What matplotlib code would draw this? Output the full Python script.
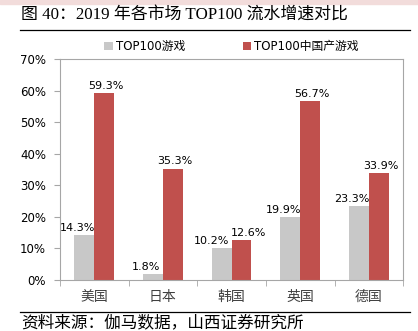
import matplotlib
matplotlib.use("Agg")
import matplotlib.pyplot as plt
import numpy as np

plt.rcParams["font.family"] = ["DejaVu Sans", "Noto Sans CJK SC"]

categories = ["美国", "日本", "韩国", "英国", "德国"]
top100 = [14.3, 1.8, 10.2, 19.9, 23.3]
top100_cn = [59.3, 35.3, 12.6, 56.7, 33.9]
series_names = ["TOP100游戏", "TOP100中国产游戏"]
yticks = [0, 10, 20, 30, 40, 50, 60, 70]

grey = "#C8C8C8"
red = "#C0504D"
axis_col = "#A6A6A6"

fig = plt.figure(figsize=(4.18, 3.31), dpi=100)

# pink band at the top
fig.patches.append(plt.Rectangle((0, 0.988), 1, 0.012, transform=fig.transFigure,
                                 color="#F2DCDB", zorder=0))

fig.text(0.05, 0.955, "图 40：2019 年各市场 TOP100 流水增速对比", fontsize=12.2,
         family=["Liberation Serif", "Noto Sans CJK SC"], va="center", ha="left")
fig.add_artist(plt.Line2D([0.048, 0.982], [0.908, 0.908], color="black", lw=0.9,
                          transform=fig.transFigure))
fig.add_artist(plt.Line2D([0.048, 0.982], [0.058, 0.058], color="black", lw=0.9,
                          transform=fig.transFigure))
fig.text(0.05, 0.025, "资料来源：伽马数据，山西证券研究所", fontsize=12,
         family=["Noto Sans CJK SC"], va="center", ha="left")

ax = fig.add_axes([0.1435, 0.154, 0.821, 0.668])
x = np.arange(len(categories))
w = 0.29
b1 = ax.bar(x - w / 2, top100, w, color=grey, label=series_names[0])
b2 = ax.bar(x + w / 2, top100_cn, w, color=red, label=series_names[1])

for i in range(len(categories)):
    close = abs(top100[i] - top100_cn[i]) < 5
    # grey labels sit a little left, red ones a little right (as in the source)
    for rect, v, dx in ((b1[i], top100[i], -5 if not close else -7),
                        (b2[i], top100_cn[i], 1.5 if not close else 5)):
        ax.annotate(f"{v:.1f}%", (rect.get_x() + rect.get_width() / 2, v),
                    xytext=(dx, 1.5), textcoords="offset points",
                    ha="center", va="bottom", fontsize=8)

ax.set_xlim(-0.5, len(categories) - 0.5)
ax.set_ylim(0, 70)
ax.set_yticks(yticks)
ax.set_yticklabels([f"{t}%" for t in yticks], fontsize=8.5)
ax.set_xticks(x)
ax.set_xticklabels(categories, fontsize=10, color="#404040")
ax.set_xticks(np.arange(len(categories) + 1) - 0.5, minor=True)
ax.tick_params(axis="x", which="major", length=0, pad=7)
ax.tick_params(axis="x", which="minor", length=4, color=axis_col, direction="out")
ax.tick_params(axis="y", length=4, color=axis_col, direction="out", pad=6)
for s in ax.spines.values():
    s.set_color(axis_col)
    s.set_linewidth(0.8)

ax.legend(loc="lower center", bbox_to_anchor=(0.5, 1.0), ncol=2, frameon=False,
          fontsize=8.5, handlelength=0.7, handleheight=0.7, handletextpad=0.3,
          columnspacing=4.85, borderaxespad=0.1)

fig.savefig("out.png", dpi=100)
